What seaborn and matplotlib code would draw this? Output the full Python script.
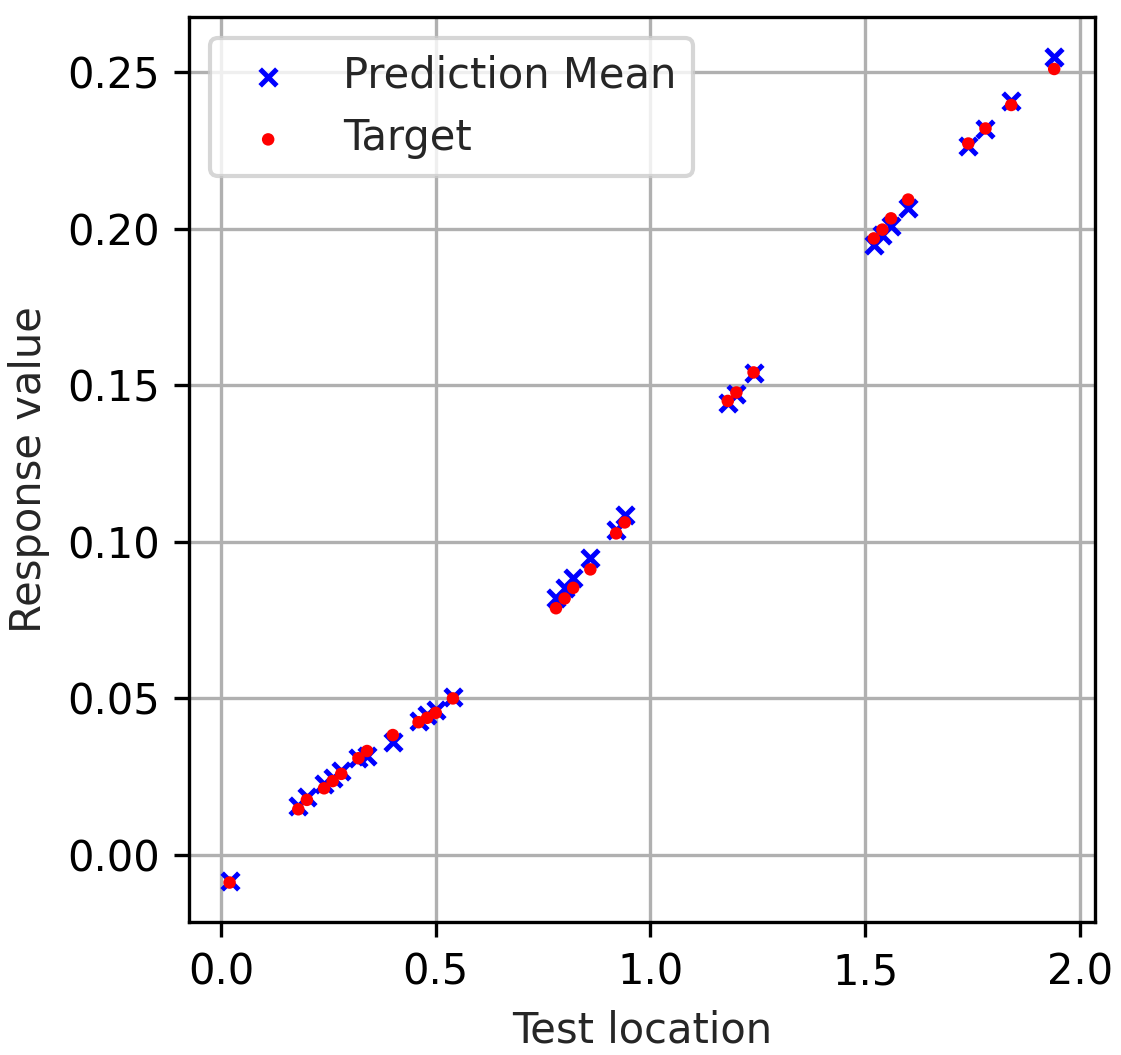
import matplotlib
matplotlib.use("Agg")
import matplotlib.pyplot as plt
import seaborn as sns
import pandas as pd

test_x = [0.02, 0.18, 0.20, 0.24, 0.26, 0.28, 0.32, 0.34, 0.40, 0.46, 0.48, 0.50, 0.54,
          0.78, 0.80, 0.82, 0.86, 0.92, 0.94, 1.18, 1.20, 1.24, 1.52, 1.54, 1.56, 1.60,
          1.74, 1.78, 1.84, 1.94]
target = [-0.0088, 0.0146, 0.0176, 0.0213, 0.0236, 0.0259, 0.0309, 0.0332, 0.0383, 0.0424,
          0.0438, 0.0454, 0.0500, 0.0788, 0.0819, 0.0853, 0.0912, 0.1027, 0.1062, 0.1450,
          0.1477, 0.1541, 0.1969, 0.1997, 0.2033, 0.2093, 0.2272, 0.2320, 0.2395, 0.2510]
pred_mean = [-0.0082, 0.0157, 0.0186, 0.0226, 0.0245, 0.0268, 0.0310, 0.0316, 0.0360, 0.0428,
             0.0447, 0.0463, 0.0505, 0.0822, 0.0851, 0.0885, 0.0947, 0.1038, 0.1086, 0.1444,
             0.1472, 0.1538, 0.1948, 0.1979, 0.2008, 0.2065, 0.2264, 0.2317, 0.2407, 0.2547]

x_ticks = [0.0, 0.5, 1.0, 1.5, 2.0]
y_ticks = [0.00, 0.05, 0.10, 0.15, 0.20, 0.25]

sns.set_theme(style="ticks", rc={
    "axes.grid": True,
    "grid.color": "#b0b0b0",
    "grid.linewidth": 0.8,
    "axes.edgecolor": "black",
    "axes.linewidth": 0.8,
    "font.size": 10,
    "axes.labelsize": 10,
    "xtick.labelsize": 10,
    "ytick.labelsize": 10,
    "legend.fontsize": 10,
    "xtick.major.size": 3.5,
    "ytick.major.size": 3.5,
    "xtick.major.width": 0.8,
    "ytick.major.width": 0.8,
})
plt.rcParams["font.family"] = ["DejaVu Sans"]

df = pd.DataFrame({"x": test_x, "target": target, "pred": pred_mean})

fig = plt.figure(figsize=(1121 / 300, 1055 / 300), dpi=300)
ax = fig.add_axes([189 / 1121, 1 - 922 / 1055, (1095 - 189) / 1121, (922 - 17) / 1055])

sns.scatterplot(data=df, x="x", y="pred", marker="x", color="blue", s=16,
                linewidth=1.2, label="Prediction Mean", ax=ax, zorder=3)
sns.scatterplot(data=df, x="x", y="target", marker="o", color="red", s=9,
                linewidth=0, edgecolor="none", label="Target", ax=ax, zorder=4)

ax.set_xlim(-0.0745, 2.035)
ax.set_ylim(-0.0214, 0.2676)
ax.set_xticks(x_ticks)
ax.set_yticks(y_ticks)
ax.set_xticklabels([f"{v:.1f}" for v in x_ticks])
ax.set_yticklabels([f"{v:.2f}" for v in y_ticks])
ax.set_xlabel("Test location")
ax.set_ylabel("Response value")
ax.grid(True, color="#b0b0b0", linewidth=0.8)
ax.set_axisbelow(True)
for s in ax.spines.values():
    s.set_visible(True)
    s.set_color("black")
    s.set_linewidth(0.8)
ax.tick_params(direction="out", colors="black", labelcolor="black")

ax.legend(loc="upper left", frameon=True, fancybox=True, framealpha=0.8,
          edgecolor="#cccccc", handletextpad=0.8, borderpad=0.4)

fig.savefig("out.png", dpi=300)
